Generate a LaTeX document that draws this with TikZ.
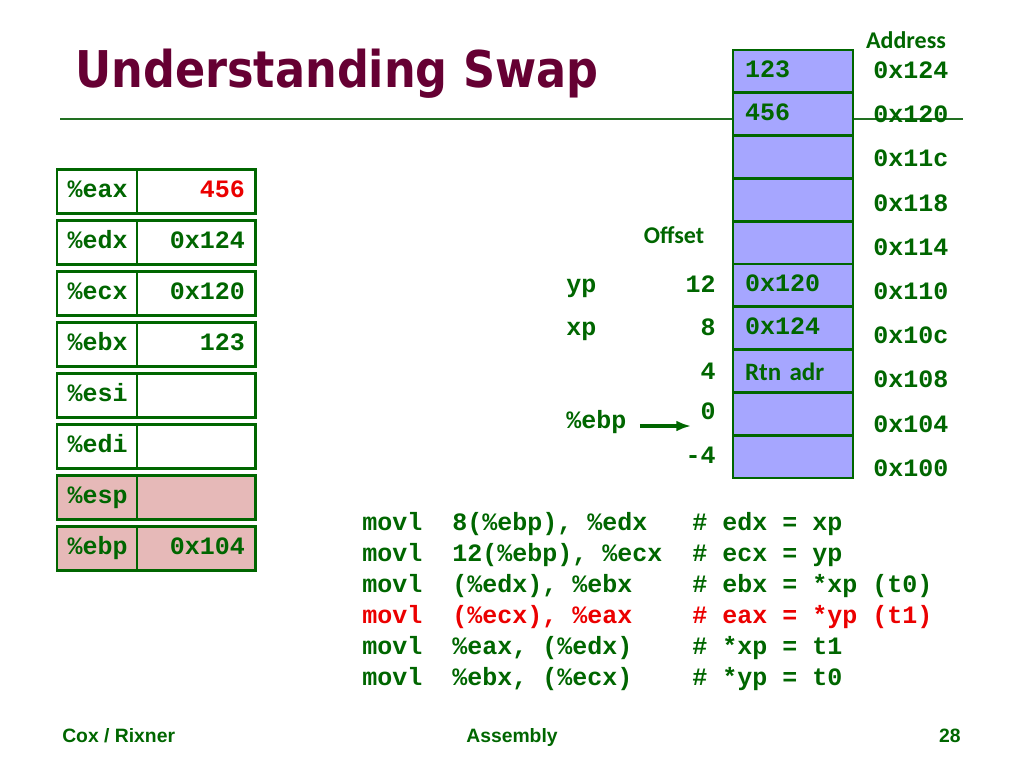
\documentclass[tikz,border=0pt]{standalone}
\usepackage{graphicx}
\usepackage{fontspec}
\setmonofont{Liberation Mono}
\newfontfamily\titlefont{DejaVu Sans}
\newfontfamily\labelfont{Carlito}
\newfontfamily\footfont{Liberation Sans}
\usetikzlibrary{positioning, arrows.meta}

\definecolor{slidegreen}{RGB}{0,102,0}
\definecolor{rulegreen}{RGB}{34,112,34}
\definecolor{titlered}{RGB}{102,0,51}
\definecolor{stackblue}{RGB}{166,166,255}
\definecolor{regpink}{RGB}{230,185,184}
\definecolor{hotred}{RGB}{235,0,0}

\begin{document}
\begin{tikzpicture}[x=.75pt, y=-.75pt,
    code/.style={font=\fontsize{18.75}{20}\selectfont\ttfamily\bfseries,
        text=slidegreen, inner sep=0pt},
    labeltext/.style={font=\fontsize{18}{20}\selectfont\labelfont\bfseries,
        text=slidegreen, inner sep=0pt},
    regname/.style={code, draw=slidegreen, line width=2.2pt, outer sep=0pt,
        minimum height=33pt, text width=44pt, inner xsep=8pt, align=left,
        text height=.95em, text depth=.05em},
    regval/.style={regname, text width=73pt, align=right},
    cellbox/.style={code, draw=slidegreen, fill=stackblue, line width=2.2pt,
        outer sep=0pt, minimum height=32.1pt, text width=72pt, inner xsep=9pt,
        align=left, text height=.95em, text depth=.05em},
    foottext/.style={font=\fontsize{14.5}{16}\selectfont\footfont\bfseries,
        text=slidegreen, inner sep=0pt}]
    \useasboundingbox (0, 0) rectangle (1024, 768);

    \node (slide_title) at (75, 87) 
        [anchor=base west, text=titlered, inner sep=0pt,
         font=\fontsize{38}{40}\selectfont\titlefont\bfseries] 
        {\scalebox{.88}[1]{Understanding Swap}};
    \draw [rulegreen, line width=1.6pt] (60, 119) -- (963, 119);

    % Registers
    \foreach \reg/\val/\bg/\tc [count=\k] in {eax/456/white/hotred,
        edx/0x124/white/slidegreen, ecx/0x120/white/slidegreen,
        ebx/123/white/slidegreen, esi//white/slidegreen,
        edi//white/slidegreen, esp//regpink/slidegreen,
        ebp/0x104/regpink/slidegreen}
    {
        \node (reg_\reg) at (97, {140.5+51*\k}) 
            [regname, fill=\bg] {\%\reg};
        \node (val_\reg) [regval, fill=\bg, text=\tc, right=0pt of reg_\reg] 
            {\val};
    }

    % Stack frame
    \foreach \val [count=\k] in {123, 456, {}, {}, {}, 0x120, 0x124,
        {\labelfont\raisebox{-2.5pt}{Rtn adr}}, {}, {}}
        \node (cell_\k) at (793, {28.6+42.8*\k}) [cellbox] {\val};
    \node (address_title) at (906, 40) [labeltext] {Address};
    \foreach \adr [count=\k] in {124, 120, 11c, 118, 114, 110, 10c, 108, 104, 100}
        \node (addr_\adr) at (873, {31.5+44.2*\k}) 
            [code, anchor=mid west] {0x\adr};

    % Offsets from %ebp
    \node (offset_title) at (674, 235) [labeltext] {Offset};
    \node (off_12) at (716, 290) [code, anchor=mid east] {12};
    \node (off_8) at (716, 333) [code, anchor=mid east] {8};
    \node (off_4) at (716, 377) [code, anchor=mid east] {4};
    \node (off_0) at (716, 417) [code, anchor=mid east] {0};
    \node (off_m4) at (716, 461) [code, anchor=mid east] {-4};
    \node (yp_name) at (566, 290) [code, anchor=mid west] {yp};
    \node (xp_name) at (566, 333) [code, anchor=mid west] {xp};
    \node (ebp_ptr) at (566, 426) [code, anchor=mid west] {\%ebp};
    \draw [-{Latex[length=11pt, width=8pt]}, line width=2.6pt, slidegreen,
        shorten <=10pt, shorten >=7pt] 
        (ebp_ptr.mid east) -- (off_0.west |- ebp_ptr.mid east);

    % Code
    \foreach \arg/\note/\tc [count=\k] in {
        {8(\%ebp), \%edx}/{\# edx = xp}/slidegreen,
        {12(\%ebp), \%ecx}/{\# ecx = yp}/slidegreen,
        {(\%edx), \%ebx}/{\# ebx = *xp (t0)}/slidegreen,
        {(\%ecx), \%eax}/{\# eax = *yp (t1)}/hotred,
        {\%eax, (\%edx)}/{\# *xp = t1}/slidegreen,
        {\%ebx, (\%ecx)}/{\# *yp = t0}/slidegreen}
    {
        \node (op_\k) at (362, {497+31*\k}) [code, anchor=mid west, text=\tc] {movl};
        \node (arg_\k) at (452, {497+31*\k}) [code, anchor=mid west, text=\tc] {\arg};
        \node (note_\k) at (692, {497+31*\k}) [code, anchor=mid west, text=\tc] {\note};
    }

    \node (foot_left) at (62, 742) [foottext, anchor=base west] {Cox / Rixner};
    \node (foot_mid) at (512, 742) [foottext, anchor=base] {Assembly};
    \node (foot_right) at (961, 742) [foottext, anchor=base east] {28};
\end{tikzpicture}
\end{document}
